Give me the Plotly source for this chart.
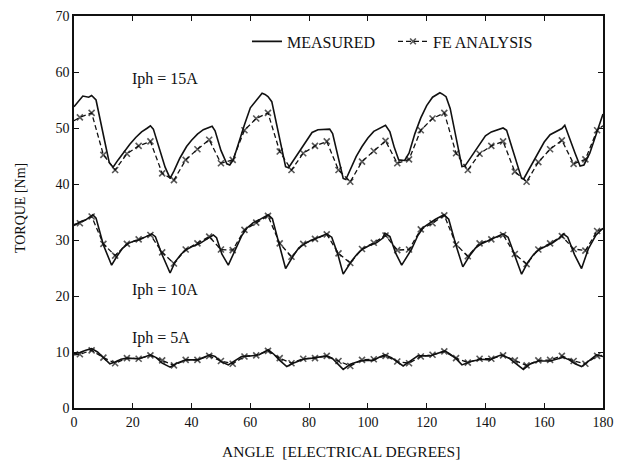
import plotly.graph_objects as go

# ---------------- data ----------------
# Measured torque curves (angle in electrical degrees, torque in Nm)
meas15_x = [0, 1.5, 3, 5, 6, 7.5, 9, 10.5, 12, 13.3, 15, 17, 19, 21, 23, 25, 26, 27, 29, 31, 32.7, 34, 36, 38.3,
            40, 42, 44, 46, 47, 48, 50, 52, 53, 54.2, 56, 58, 60,
            62, 64, 65, 66, 67.3, 69, 71, 72, 73, 75, 77, 79, 81, 83, 85, 87, 88, 90, 91.6, 92.5, 94, 96, 98,
            100, 102, 104, 106, 107.5, 109, 110.5, 112.5, 114, 116, 118, 120,
            122, 124.5, 125.5, 126.6, 128, 130, 132, 133, 135, 137, 140, 142, 145, 146, 147.2, 149, 151, 152.3,
            153, 155, 158, 160, 162, 164, 166, 167, 168.5, 170.5, 172.2, 173.5, 175.5, 178, 180]
meas15_y = [53.8, 54.8, 55.7, 55.5, 55.8, 55.0, 51.5, 47.5, 43.8, 43.0, 44.3, 45.8, 47.1, 48.3, 49.3, 50.0, 50.4, 49.8,
            46.5, 43.0, 41.0, 42.3, 44.6, 46.7, 47.8, 48.9, 49.7, 50.1, 50.3, 49.5, 46.0, 43.6, 43.4, 44.3, 47.5,
            50.6, 53.6,
            55.0, 56.2, 56.0, 55.6, 54.7, 50.5, 45.5, 43.1, 42.9, 44.5, 46.2, 47.8, 49.2, 49.7, 49.8, 49.8, 49.0,
            44.5, 41.0, 40.8, 42.6, 44.9, 46.7, 48.2, 49.4, 49.9, 50.5, 49.3, 46.5, 44.3, 44.2, 45.5, 49.0, 51.8,
            54.0,
            55.5, 56.3, 56.0, 55.6, 53.5, 48.5, 43.1, 43.2, 44.8, 46.4, 48.6, 49.3, 49.9, 50.0, 49.6, 46.5, 43.0,
            41.0, 40.9, 42.8, 45.6, 47.5, 48.8, 49.4, 49.9, 50.5, 48.5, 45.5, 43.2, 43.4, 45.5, 49.3, 52.5]

meas10_x = [0, 2, 4, 6.4, 7.5, 10, 12.8, 14.5, 16.5, 18.5, 20.5, 22.5, 24.5, 26.4, 27.7, 29.8, 32.7, 34.4, 36.5,
            38.3, 40.5, 42.9, 45, 47.4, 48.5, 50.3, 52.5, 54.8, 57, 58.8,
            61, 63, 66.1, 67.5, 70, 72, 74.5, 76.5, 78.5, 80.5, 82.5, 84.5, 86, 87.7, 89.8, 91.6, 94.4, 96.5,
            98.3, 100.5, 102.9, 105, 105.8, 107.5, 109.5, 111.5, 114.8, 117, 118.8,
            121, 123, 125.9, 127.5, 130, 132.3, 134.5, 136.5, 138.5, 140.5, 142.5, 144.5, 146, 147.7, 149.8,
            152.3, 154.4, 156.5, 158.3, 160.5, 162.9, 165, 166.5, 168, 170.3, 172.7, 175, 177.5, 180]
meas10_y = [32.6, 33.2, 33.6, 34.5, 33.9, 29.1, 25.5, 27.0, 28.5, 29.4, 29.8, 30.1, 30.6, 31.1, 30.6, 27.6, 24.1,
            26.1, 27.5, 28.3, 28.9, 29.4, 30.1, 30.9, 30.4, 27.5, 25.5, 28.2, 30.7, 32.1,
            33.1, 33.6, 34.5, 33.8, 28.6, 24.9, 27.1, 28.6, 29.3, 29.9, 30.3, 30.7, 31.1, 30.5, 27.4, 23.9, 26.2,
            27.6, 28.4, 29.0, 29.5, 30.3, 31.2, 30.6, 27.6, 25.5, 28.3, 30.8, 32.2,
            33.0, 33.7, 34.5, 33.7, 29.0, 25.2, 27.1, 28.5, 29.3, 29.8, 30.2, 30.7, 31.1, 30.5, 27.4, 23.9, 26.0,
            27.5, 28.3, 28.9, 29.5, 30.3, 31.1, 30.5, 27.4, 24.9, 28.4, 30.8, 32.1]

meas5_x = [0, 2, 4, 6, 8, 10, 12.2, 14, 16, 18, 20, 22, 24, 26, 28, 30, 32.7, 35, 38, 40, 42.3, 44, 46.3, 48, 50,
           52.5, 55, 57, 60, 63, 66.1, 68, 70, 72.4, 75, 78, 81, 84, 86, 88, 90, 91.6, 94, 97.3, 99.5, 101.8, 104,
           105.8, 108, 110, 112, 114.5, 117, 121, 123.5, 126.2, 128, 130, 132, 135, 138.5, 141.5, 143.5, 145.5,
           148, 150.5, 152.9, 155, 158, 162, 164.5, 166.5, 168.5, 170.5, 172.7, 175, 177.8, 180]
meas5_y = [9.7, 9.9, 10.3, 10.6, 10.0, 9.0, 7.9, 8.2, 8.7, 8.9, 8.8, 8.8, 9.1, 9.5, 9.0, 8.0, 7.3, 8.0, 8.6, 8.6,
           8.6, 9.0, 9.5, 9.2, 8.3, 7.7, 8.5, 9.2, 9.3, 9.5, 10.4, 9.6, 8.5, 7.4, 8.1, 8.7, 8.9, 9.1, 9.3, 8.8,
           7.8, 6.9, 7.8, 8.4, 8.5, 8.5, 9.1, 9.5, 9.0, 8.2, 7.5, 8.4, 9.3, 9.3, 9.8, 10.2, 9.6, 8.8, 7.7, 8.3,
           8.7, 8.6, 9.1, 9.5, 8.9, 7.9, 6.9, 7.8, 8.4, 8.4, 8.8, 9.05, 8.6, 7.9, 7.4, 8.3, 9.5, 9.2]

# FE analysis points (x markers every 4 degrees, line continues to the plot edges)
fe_x = [0, 2, 6, 10, 14, 18, 22, 26, 30, 34, 38, 42, 46, 50, 54, 58,
        62, 66, 70, 74, 78, 82, 86, 90, 94, 98, 102, 106, 110, 114, 118,
        122, 126, 130, 134, 138, 142, 146, 150, 154, 158, 162, 166, 170, 174, 178, 180]
fe15_y = [51.3, 51.9, 52.7, 45.2, 42.5, 45.4, 46.8, 47.6, 41.9, 40.7, 44.3, 46.2, 47.9, 43.7, 44.3, 49.6,
          51.7, 52.7, 45.8, 42.5, 45.5, 46.8, 47.6, 42.5, 40.4, 44.0, 45.9, 47.7, 43.7, 44.4, 49.6,
          51.7, 52.7, 45.5, 42.5, 45.4, 46.8, 47.6, 42.2, 40.4, 43.9, 46.2, 47.8, 43.6, 44.4, 49.6, 50.4]
fe10_y = [32.8, 33.0, 34.2, 29.3, 27.2, 29.3, 30.1, 30.9, 27.8, 25.8, 28.3, 29.4, 30.6, 28.3, 28.2, 31.8,
          33.1, 34.3, 29.4, 27.0, 29.3, 30.2, 31.0, 27.6, 25.9, 28.4, 29.5, 30.8, 28.2, 28.3, 31.9,
          33.0, 34.4, 29.2, 27.1, 29.4, 30.1, 30.9, 27.5, 25.7, 28.3, 29.4, 30.7, 28.4, 28.1, 31.6, 32.0]
fe5_y = [9.5, 9.6, 10.3, 9.0, 8.0, 8.9, 8.8, 9.4, 8.5, 7.6, 8.6, 8.6, 9.3, 8.4, 7.9, 9.2,
         9.4, 10.2, 8.9, 8.0, 8.8, 8.9, 9.3, 8.4, 7.5, 8.6, 8.7, 9.3, 8.3, 8.0, 9.2,
         9.5, 10.1, 8.9, 8.1, 8.8, 8.8, 9.4, 8.5, 7.6, 8.5, 8.6, 9.3, 8.4, 7.9, 9.3, 9.4]

curve_labels = ["Iph = 15A", "Iph = 10A", "Iph = 5A"]
label_pos_x = [31, 31, 29.6]
label_pos_y = [58.7, 21.0, 12.5]

x_ticks = [0, 20, 40, 60, 80, 100, 120, 140, 160, 180]
y_ticks = [0, 10, 20, 30, 40, 50, 60, 70]

# ---------------- figure ----------------
FONT = "Liberation Serif, Times New Roman, serif"
INK = "#111111"

fig = go.Figure()

marker_sizes = [0] + [6] * (len(fe_x) - 2) + [0]

for i, (my, mx) in enumerate([(meas15_y, meas15_x), (meas10_y, meas10_x), (meas5_y, meas5_x)]):
    fig.add_trace(go.Scatter(
        x=mx, y=my, mode="lines", name="MEASURED",
        line=dict(color=INK, width=1.6), showlegend=(i == 0), legendrank=1))

for i, fy in enumerate([fe15_y, fe10_y, fe5_y]):
    fig.add_trace(go.Scatter(
        x=fe_x, y=fy, mode="lines+markers", name="FE ANALYSIS",
        line=dict(color=INK, width=1.3, dash="5px,3px"),
        marker=dict(symbol="x-thin", size=marker_sizes, line=dict(color=INK, width=1.6), color=INK),
        showlegend=(i == 0), legendrank=2))

for t, lx, ly in zip(curve_labels, label_pos_x, label_pos_y):
    fig.add_annotation(x=lx, y=ly, text=t, showarrow=False, xanchor="center", yanchor="middle",
                       font=dict(family=FONT, size=16, color=INK))

fig.add_annotation(xref="paper", yref="paper", x=-0.102, y=0.51, text="TORQUE [Nm]", textangle=-90,
                   showarrow=False, xanchor="center", yanchor="middle",
                   font=dict(family=FONT, size=14, color=INK))
fig.add_annotation(xref="paper", yref="paper", x=0.505, y=-0.11, text="ANGLE&nbsp;&nbsp;[ELECTRICAL DEGREES]",
                   showarrow=False, xanchor="center", yanchor="middle",
                   font=dict(family=FONT, size=15.5, color=INK))

axis_common = dict(showgrid=False, zeroline=False, showline=True, linecolor=INK, linewidth=1.6,
                   mirror="ticks", ticks="inside", ticklen=5, tickwidth=1.2, tickcolor=INK,
                   automargin=False,
                   tickfont=dict(family=FONT, size=14, color=INK))

fig.update_xaxes(range=[0, 180], tickvals=x_ticks, **axis_common)
fig.update_yaxes(range=[0, 70], tickvals=y_ticks, **axis_common)

fig.update_layout(
    width=618, height=462,
    margin=dict(l=74, r=15, t=16, b=54),
    paper_bgcolor="white", plot_bgcolor="white",
    font=dict(family=FONT, color=INK),
    legend=dict(orientation="h", x=0.327, y=0.935, xanchor="left", yanchor="middle",
                bgcolor="rgba(0,0,0,0)", font=dict(family=FONT, size=16, color=INK),
                itemwidth=30, entrywidth=101, tracegroupgap=0),
)

fig.write_html("out.html")
